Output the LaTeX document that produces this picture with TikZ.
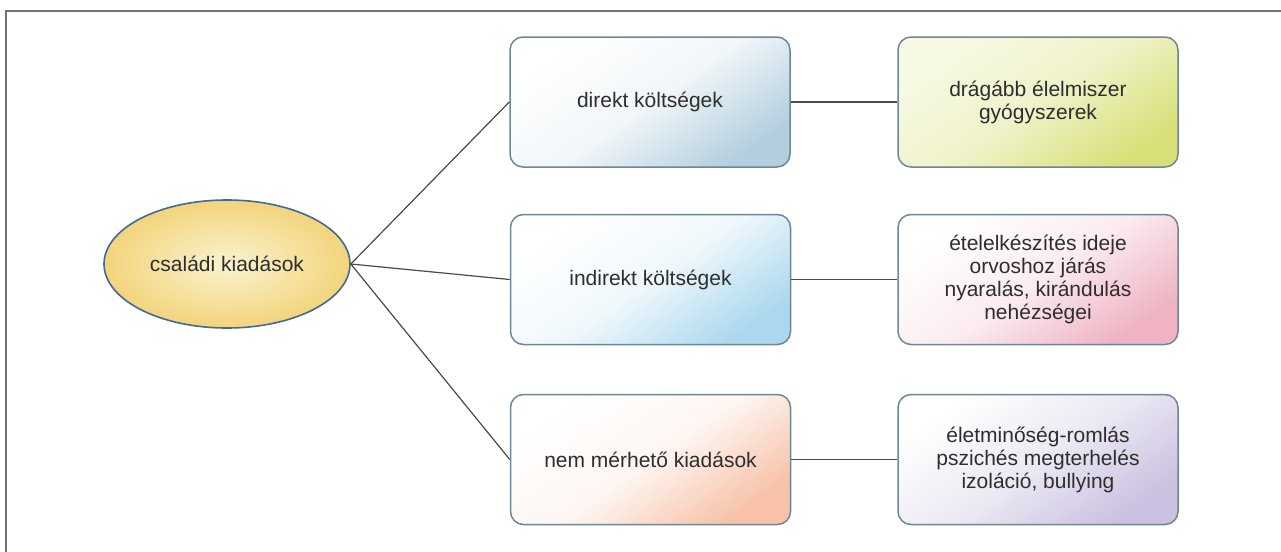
\documentclass[tikz,border=0pt]{standalone}
\usepackage{fontspec}
\setmainfont{Liberation Sans}
\usepackage{tikz}
\usetikzlibrary{shapes.geometric}

\definecolor{txtgray}{HTML}{2E2E2E}
\definecolor{edgegray}{HTML}{6E8795}
\definecolor{ellblue}{HTML}{3F6B96}
\definecolor{ellin}{HTML}{FAF3CF}
\definecolor{ellout}{HTML}{F3D47C}
\definecolor{linegray}{HTML}{4A4A4A}
\definecolor{dirblue}{HTML}{B3CFDF}
\definecolor{indblue}{HTML}{ABD8EE}
\definecolor{nempeach}{HTML}{F7C2A8}
\definecolor{limeyel}{HTML}{D9E07A}
\definecolor{pinkish}{HTML}{EFB3C3}
\definecolor{lavend}{HTML}{CBC1E0}

\begin{document}
\begin{tikzpicture}[x=0.5pt,y=0.5pt]
\tikzstyle{every node}+=[inner sep=0pt, text=txtgray, font=\fontsize{10.5}{11.5}\selectfont, align=center]
\tikzstyle{box}=[draw=edgegray, line width=0.75pt, rounded corners=6.5pt, minimum width=140pt, minimum height=65pt]
\tikzstyle{link}=[draw=linegray, line width=0.6pt]
\useasboundingbox (0,0) rectangle (1281,-552);
\draw [gray!90!black, line width=1pt] (1281,-10.5) -- (6,-10.5) -- (6,-552);
\node [ellipse, draw=ellblue, line width=0.8pt, inner color=ellin, outer color=ellout, minimum width=123pt, minimum height=64pt] (csal) at (227,-264) {csal\'adi kiad\'asok};
\node [box, top color=white, bottom color=dirblue, middle color=dirblue!18, shading angle=35] (dir) at (650,-102) {direkt k\"olts\'egek};
\node [box, top color=white, bottom color=indblue, middle color=indblue!18, shading angle=35] (ind) at (650.5,-279.5) {indirekt k\"olts\'egek};
\node [box, top color=white, bottom color=nempeach, middle color=nempeach!15, shading angle=35] (nem) at (650.5,-459.5) {nem m\'erhet\H{o} kiad\'asok};
\node [box, top color=limeyel!20, bottom color=limeyel, middle color=limeyel!40, shading angle=35] (dirx) at (1038,-102) {dr\'ag\'abb \'elelmiszer\\gy\'ogyszerek};
\node [box, top color=white, bottom color=pinkish, middle color=pinkish!25, shading angle=35] (indx) at (1038,-279.5) {\'etelelk\'esz\'it\'es ideje\\orvoshoz j\'ar\'as\\nyaral\'as, kir\'andul\'as\\neh\'ezs\'egei};
\node [box, top color=white, bottom color=lavend, middle color=lavend!35, shading angle=35] (nemx) at (1038,-459.5) {\'eletmin\H{o}s\'eg-roml\'as\\pszich\'es megterhel\'es\\izol\'aci\'o, bullying};
\draw [link] (csal.east) -- (dir.west);
\draw [link] (csal.east) -- (ind.west);
\draw [link] (csal.east) -- (nem.west);
\draw [link] (dir.east) -- (dirx.west);
\draw [link] (ind.east) -- (indx.west);
\draw [link] (nem.east) -- (nemx.west);
\end{tikzpicture}
\end{document}
